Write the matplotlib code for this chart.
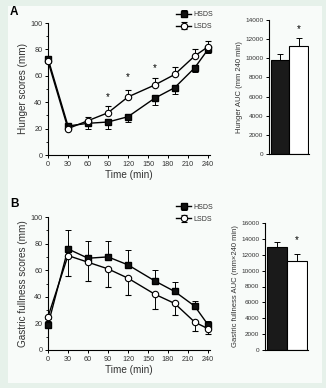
import numpy as np
import matplotlib
matplotlib.use("Agg")
import matplotlib.pyplot as plt
from matplotlib.ticker import MultipleLocator

plt.rcParams["font.family"] = ["Liberation Sans", "DejaVu Sans"]

# =========================================
# DATA
# =========================================
times = [0, 30, 60, 90, 120, 160, 190, 220, 240]

hunger_hsds = [73, 22, 24, 25, 29, 43, 51, 66, 80]
hunger_hsds_err = [3, 2, 4, 5, 4, 5, 5, 3, 3]
hunger_lsds = [71, 20, 26, 32, 44, 53, 61, 75, 82]
hunger_lsds_err = [1, 1, 3, 5, 5, 5, 6, 5, 4]
hunger_sig_times = [90, 120, 160]
hunger_sig_y = [44, 59, 66]

fullness_hsds = [19, 76, 69, 70, 64, 52, 44, 33, 19]
fullness_hsds_err = [3, 14, 13, 12, 11, 8, 7, 4, 3]
fullness_lsds = [25, 71, 66, 61, 54, 42, 35, 21, 16]
fullness_lsds_err = [2, 15, 14, 14, 13, 11, 9, 7, 4]

groups = ["HSDS", "LSDS"]
hunger_auc = [9800, 11300]
hunger_auc_err = [600, 850]
fullness_auc = [13000, 11200]
fullness_auc_err = [600, 900]

TEXT = "#333333"
INNER_BG = "#f8fbf9"
OUTER_BG = "#e6f1ea"


# =========================================
# HELPERS
# =========================================
def style_axes(ax, fs=5.2):
    for side in ["top", "right"]:
        ax.spines[side].set_visible(False)
    for side in ["left", "bottom"]:
        ax.spines[side].set_linewidth(0.8)
    ax.set_facecolor("none")
    ax.tick_params(direction="out", length=2.5, width=0.7,
                   labelsize=fs, colors="black", labelcolor=TEXT, pad=1.5)
    ax.tick_params(which="minor", direction="out", length=1.5, width=0.6)


def line_panel(ax, hs, hs_err, ls, ls_err, hs_up, ylabel, leg_top):
    # HSDS filled squares, LSDS open circles, one-sided error bars
    if hs_up:
        hs_yerr = [np.zeros(len(hs)), hs_err]
        ls_yerr = [ls_err, np.zeros(len(ls))]
    else:
        hs_yerr = [hs_err, np.zeros(len(hs))]
        ls_yerr = [np.zeros(len(ls)), ls_err]
    ax.errorbar(times, hs, yerr=hs_yerr, color="black", lw=1.0,
                marker="s", ms=4.6, mfc="#111111", mec="black",
                capsize=2, elinewidth=0.7, capthick=0.7, zorder=3,
                label=groups[0], clip_on=False)
    ax.errorbar(times, ls, yerr=ls_yerr, color="black", lw=1.0,
                marker="o", ms=4.6, mfc="white", mec="black", mew=0.8,
                capsize=2, elinewidth=0.7, capthick=0.7, zorder=4,
                label=groups[1], clip_on=False)
    ax.set_xlim(0, 243)
    ax.set_ylim(0, 100)
    ax.set_xticks(range(0, 241, 30))
    ax.set_yticks(range(0, 101, 20))
    ax.yaxis.set_minor_locator(MultipleLocator(10))
    ax.set_xlabel("Time (min)", fontsize=7.2, color=TEXT, labelpad=2)
    ax.set_ylabel(ylabel, fontsize=7.2, color=TEXT, labelpad=2)
    style_axes(ax)
    leg = ax.legend(loc="upper right", bbox_to_anchor=(1.02, leg_top),
                    frameon=False, fontsize=5, handlelength=2.2,
                    handletextpad=0.3, labelspacing=0.75, borderaxespad=0,
                    borderpad=0)
    for t in leg.get_texts():
        t.set_color(TEXT)


def bar_panel(ax, vals, errs, ymax, ylabel, star_y):
    ax.bar([0, 1], vals, width=1.0, color=["#1a1a1a", "white"],
           edgecolor="black", linewidth=0.8, zorder=2)
    ax.errorbar([0, 1], vals, yerr=[np.zeros(2), errs], fmt="none",
                ecolor="black", elinewidth=0.7, capsize=2, capthick=0.7,
                zorder=3)
    ax.text(1, star_y, "*", ha="center", va="center", fontsize=7,
            color="black")
    ax.set_xlim(-0.6, 1.55)
    ax.set_ylim(0, ymax)
    ax.set_xticks([])
    ax.set_yticks(range(0, ymax + 1, 2000))
    ax.set_ylabel(ylabel, fontsize=5.5, color=TEXT, labelpad=2)
    style_axes(ax, fs=4.6)


# =========================================
# FIGURE
# =========================================
fig = plt.figure(figsize=(3.26, 3.88), dpi=100, facecolor=OUTER_BG)
fig.patches.append(plt.Rectangle((8 / 326, 1 - 383 / 388), 314 / 326,
                                 377 / 388, transform=fig.transFigure,
                                 facecolor=INNER_BG, edgecolor="none",
                                 zorder=-10))

ax_a = fig.add_axes([48 / 326, 1 - 155 / 388, 162 / 326, 132 / 388])
ax_a_bar = fig.add_axes([269 / 326, 1 - 154 / 388, 40 / 326, 134 / 388])
ax_b = fig.add_axes([48 / 326, 1 - 350 / 388, 162 / 326, 133 / 388])
ax_b_bar = fig.add_axes([265 / 326, 1 - 350 / 388, 43 / 326, 127 / 388])

line_panel(ax_a, hunger_hsds, hunger_hsds_err, hunger_lsds, hunger_lsds_err,
           hs_up=False, ylabel="Hunger scores (mm)", leg_top=1.09)
for t, h in zip(hunger_sig_times, hunger_sig_y):
    ax_a.text(t, h, "*", ha="center", va="center", fontsize=7,
              color="black")

line_panel(ax_b, fullness_hsds, fullness_hsds_err, fullness_lsds,
           fullness_lsds_err, hs_up=True,
           ylabel="Gastric fullness scores (mm)", leg_top=1.10)

bar_panel(ax_a_bar, hunger_auc, hunger_auc_err, 14000,
          "Hunger AUC (mm 240 min)", 13100)
bar_panel(ax_b_bar, fullness_auc, fullness_auc_err, 16000,
          "Gastric fullness AUC (mm×240 min)", 13800)

fig.text(10 / 326, 1 - 12 / 388, "A", fontsize=8.5, fontweight="bold",
         va="center", ha="left")
fig.text(10 / 326, 1 - 204 / 388, "B", fontsize=8.5, fontweight="bold",
         va="center", ha="left")

fig.savefig("out.png", dpi=100, facecolor=OUTER_BG)
